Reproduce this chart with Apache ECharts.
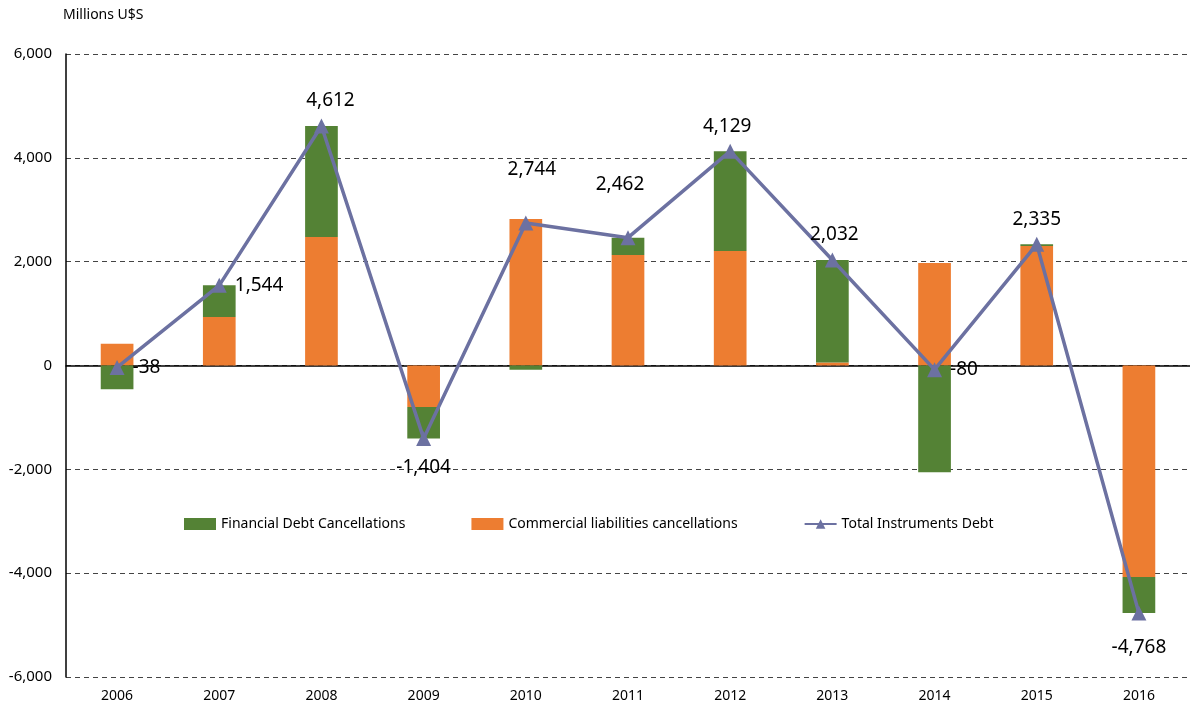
<!DOCTYPE html>
<html>
<head>
<meta charset="utf-8">
<script src="https://cdn.jsdelivr.net/npm/echarts@6/dist/echarts.min.js"></script>
<style>
  html, body { margin: 0; padding: 0; background: #fff; }
  #chart { width: 1190px; height: 709px; }
</style>
</head>
<body>
<div id="chart"></div>
<script>
// 数据
const years = ['2006', '2007', '2008', '2009', '2010', '2011', '2012', '2013', '2014', '2015', '2016']
const commercial = [420, 934, 2476, -800, 2824, 2129, 2206, 60, 1975, 2302, -4075]
const financial = [-458, 610, 2136, -604, -80, 333, 1923, 1972, -2055, 33, -693]
const total = [-38, 1544, 4612, -1404, 2744, 2462, 4129, 2032, -80, 2335, -4768]
// 标签位置（Excel里手动拖过的几个）
const labelPos = ['right', 'right', 'top', 'bottom', 'top', 'top', 'top', 'top', 'right', 'top', 'bottom']
const labelDist = [8, 8, 8, 12, 36, 36, 8, 8, 8, 8, 18]
const labelDx = [0, 0, 9, 0, 6, -8, -3, 2, 0, 0, 0]

const fmt = v => Number(v).toLocaleString('en-US')
const font = 'Noto Sans'

const myChart = echarts.init(document.getElementById('chart'))
const option = {
  animation: false,
  textStyle: { fontFamily: font },
  grid: { left: 66, right: 0, top: 54, bottom: 32 },
  graphic: [{
    type: 'text', left: 63, top: 8,
    style: { text: 'Millions U$S', fontSize: 14, fill: '#000', fontFamily: font }
  }],
  legend: {
    left: 179, top: 512,
    itemGap: 66, itemWidth: 32, itemHeight: 12,
    textStyle: { fontSize: 14, color: '#000', fontFamily: font },
    data: [
      { name: 'Financial Debt Cancellations', icon: 'rect' },
      { name: 'Commercial liabilities cancellations', icon: 'rect' },
      { name: 'Total Instruments Debt' }
    ]
  },
  xAxis: {
    type: 'category',
    data: years,
    axisLine: { onZero: true, lineStyle: { color: '#000', width: 1.5 } },
    axisTick: { show: false },
    axisLabel: { fontSize: 14, color: '#000', margin: 12 }
  },
  yAxis: {
    type: 'value',
    min: -6000, max: 6000, interval: 2000,
    axisLine: { show: true, lineStyle: { color: '#000', width: 1.5 } },
    axisLabel: { fontSize: 15, color: '#000', margin: 14, formatter: fmt },
    splitLine: { lineStyle: { color: '#444', type: [5, 4], width: 1 } }
  },
  series: [
    {
      name: 'Commercial liabilities cancellations',
      type: 'bar', stack: 'debt', barWidth: '32%',
      itemStyle: { color: '#ED7D31' },
      data: commercial
    },
    {
      name: 'Financial Debt Cancellations',
      type: 'bar', stack: 'debt', barWidth: '32%',
      itemStyle: { color: '#548235' },
      data: financial
    },
    {
      name: 'Total Instruments Debt',
      type: 'line',
      symbol: 'triangle', symbolSize: 15,
      lineStyle: { color: '#6C71A1', width: 3.5 },
      itemStyle: { color: '#6C71A1' },
      z: 5,
      data: total.map((v, i) => ({
        value: v,
        label: {
          show: true,
          position: labelPos[i],
          distance: labelDist[i],
          offset: [labelDx[i], 0],
          fontSize: 19, color: '#000', fontFamily: font,
          formatter: p => fmt(p.value)
        }
      }))
    }
  ]
}
myChart.setOption(option)
</script>
</body>
</html>
